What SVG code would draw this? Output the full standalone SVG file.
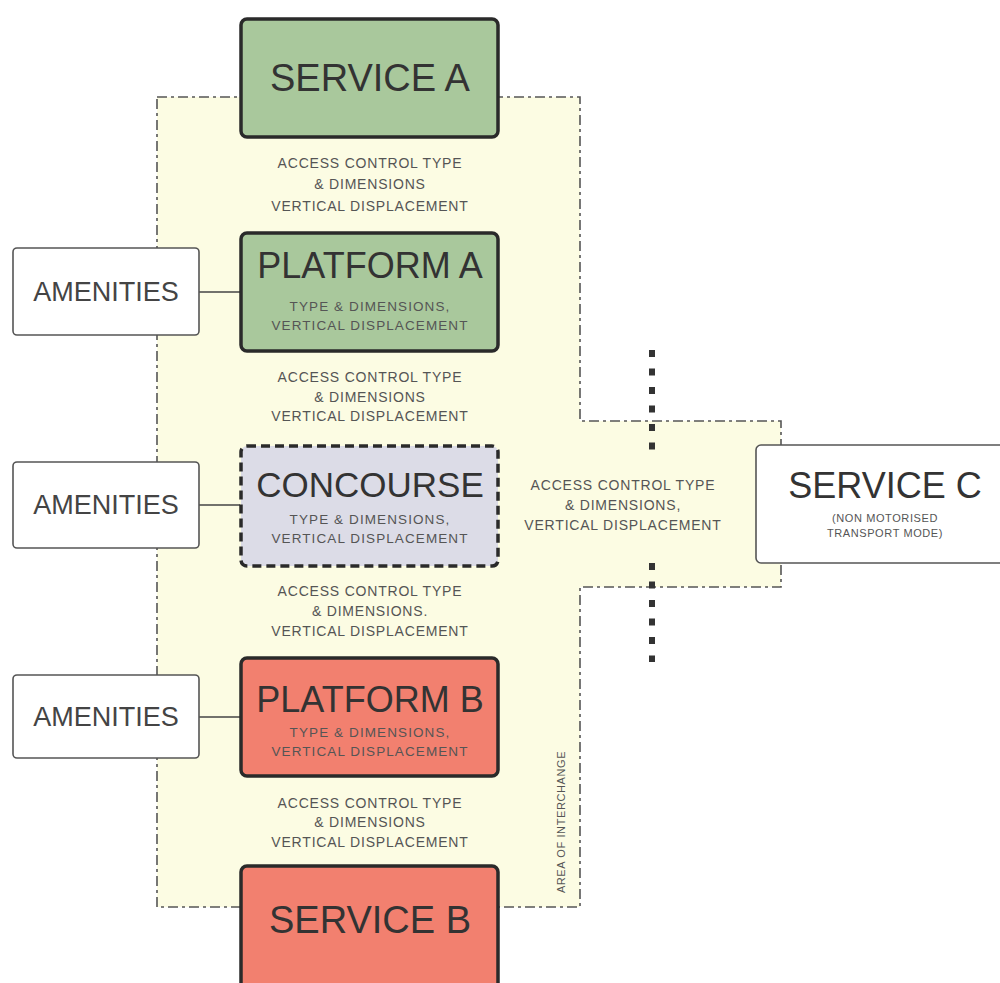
<svg xmlns="http://www.w3.org/2000/svg" width="1000" height="983" viewBox="0 0 1000 983">
  <style>
    text { font-family: "Liberation Sans", Arial, sans-serif; text-anchor: middle; }
    .area { fill: #fcfce3; stroke: #555; stroke-width: 1.6; stroke-dasharray: 10 4 3 4; }
    .node { stroke: #2a2a2a; stroke-width: 3.5; }
    .green { fill: #a9c89c; }
    .red { fill: #f2806f; }
    .conc { fill: #dcdce7; stroke-dasharray: 9 5; }
    .amen { fill: #fff; stroke: #555; stroke-width: 1.6; }
    .title { font-size: 37px; fill: #333; }
    .amtxt { font-size: 27px; fill: #444; }
    .sub { font-size: 13.5px; fill: #555; letter-spacing: 1.1px; }
    .acc { font-size: 14px; fill: #555; letter-spacing: 0.8px; }
    .link { stroke: #444; stroke-width: 1.6; fill: none; }
    .boundary { stroke: #333; stroke-width: 6; stroke-dasharray: 7 11.5; fill: none; }
  </style>

  <!-- interchange area -->
  <g id="area">
    <path class="area" d="M157,97 H580 V421 H781 V587 H580 V907 H157 Z"/>
    <text x="565" y="822" transform="rotate(-90 565 822)" style="font-size:11px;fill:#555;letter-spacing:0.6px">AREA OF INTERCHANGE</text>
  </g>

  <!-- connectors -->
  <g id="connectors">
    <line class="link" x1="199" y1="292" x2="240" y2="292"/>
    <line class="link" x1="199" y1="505" x2="240" y2="505"/>
    <line class="link" x1="199" y1="717" x2="240" y2="717"/>
    <line class="boundary" x1="652" y1="350" x2="652" y2="452"/>
    <line class="boundary" x1="652" y1="563" x2="652" y2="662"/>
  </g>

  <!-- access labels -->
  <g id="access-labels">
    <text class="acc" x="370" y="168">ACCESS CONTROL TYPE</text>
    <text class="acc" x="370" y="189">&amp; DIMENSIONS</text>
    <text class="acc" x="370" y="211">VERTICAL DISPLACEMENT</text>

    <text class="acc" x="370" y="382">ACCESS CONTROL TYPE</text>
    <text class="acc" x="370" y="402">&amp; DIMENSIONS</text>
    <text class="acc" x="370" y="421">VERTICAL DISPLACEMENT</text>

    <text class="acc" x="370" y="596">ACCESS CONTROL TYPE</text>
    <text class="acc" x="370" y="616">&amp; DIMENSIONS.</text>
    <text class="acc" x="370" y="636">VERTICAL DISPLACEMENT</text>

    <text class="acc" x="370" y="808">ACCESS CONTROL TYPE</text>
    <text class="acc" x="370" y="827">&amp; DIMENSIONS</text>
    <text class="acc" x="370" y="847">VERTICAL DISPLACEMENT</text>

    <text class="acc" x="623" y="490">ACCESS CONTROL TYPE</text>
    <text class="acc" x="623" y="510">&amp; DIMENSIONS,</text>
    <text class="acc" x="623" y="530">VERTICAL DISPLACEMENT</text>
  </g>

  <g id="service-a">
    <rect class="node green" x="241" y="19" width="257" height="118" rx="6"/>
    <text class="title" x="370" y="91" style="font-size:38px">SERVICE A</text>
  </g>

  <g id="platform-a">
    <rect class="node green" x="241" y="233" width="257" height="118" rx="6"/>
    <text class="title" x="370" y="278" style="font-size:36px">PLATFORM A</text>
    <text class="sub" x="370" y="311">TYPE &amp; DIMENSIONS,</text>
    <text class="sub" x="370" y="330">VERTICAL DISPLACEMENT</text>
  </g>

  <g id="concourse">
    <rect class="node conc" x="241" y="446" width="257" height="120" rx="6"/>
    <text class="title" x="370" y="497" style="font-size:35px">CONCOURSE</text>
    <text class="sub" x="370" y="524">TYPE &amp; DIMENSIONS,</text>
    <text class="sub" x="370" y="543">VERTICAL DISPLACEMENT</text>
  </g>

  <g id="platform-b">
    <rect class="node red" x="241" y="658" width="257" height="118" rx="6"/>
    <text class="title" x="370" y="712" style="font-size:36px">PLATFORM B</text>
    <text class="sub" x="370" y="737">TYPE &amp; DIMENSIONS,</text>
    <text class="sub" x="370" y="756">VERTICAL DISPLACEMENT</text>
  </g>

  <g id="service-b">
    <rect class="node red" x="241" y="866" width="257" height="130" rx="6"/>
    <text class="title" x="370" y="933" style="font-size:38px">SERVICE B</text>
  </g>

  <g id="amenities-1">
    <rect class="amen" x="13" y="248" width="186" height="87" rx="4"/>
    <text class="amtxt" x="106" y="301">AMENITIES</text>
  </g>

  <g id="amenities-2">
    <rect class="amen" x="13" y="462" width="186" height="86" rx="4"/>
    <text class="amtxt" x="106" y="514">AMENITIES</text>
  </g>

  <g id="amenities-3">
    <rect class="amen" x="13" y="675" width="186" height="83" rx="4"/>
    <text class="amtxt" x="106" y="726">AMENITIES</text>
  </g>

  <g id="service-c">
    <rect class="amen" x="756" y="445" width="254" height="118" rx="5"/>
    <text class="title" x="885" y="498" style="font-size:36px">SERVICE C</text>
    <text class="sub" x="885" y="522" style="font-size:11px;letter-spacing:0.6px">(NON MOTORISED</text>
    <text class="sub" x="885" y="537" style="font-size:11px;letter-spacing:0.6px">TRANSPORT MODE)</text>
  </g>
</svg>
